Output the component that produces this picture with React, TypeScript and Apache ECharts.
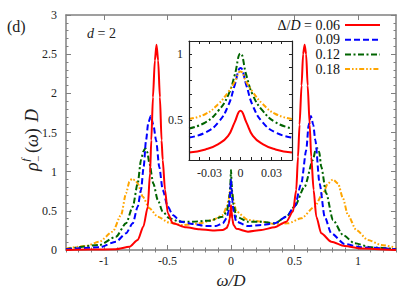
import React, { useEffect, useRef } from "react";
import * as echarts from "echarts";

// ---- data ----
const seriesNames = ["0.06", "0.09", "0.12", "0.18"];

const red006: number[][] = [
  [-1.3, 0.0], [-1.1, 0.005], [-0.906, 0.01], [-0.8, 0.04], [-0.735, 0.128], [-0.69, 0.3],
  [-0.656, 0.55], [-0.638, 0.98], [-0.628, 1.4], [-0.615, 1.95], [-0.6, 2.42], [-0.587, 2.62],
  [-0.574, 2.42], [-0.56, 1.95], [-0.547, 1.4], [-0.538, 1.15], [-0.52, 0.77], [-0.498, 0.47],
  [-0.459, 0.34], [-0.354, 0.29], [-0.25, 0.264], [-0.144, 0.25], [-0.065, 0.255], [-0.034, 0.28],
  [-0.02, 0.33], [-0.01, 0.4], [-0.005, 0.49], [0, 0.57], [0.005, 0.49], [0.01, 0.4], [0.02, 0.32],
  [0.042, 0.27], [0.134, 0.234], [0.239, 0.255], [0.344, 0.29], [0.436, 0.362], [0.488, 0.49],
  [0.514, 0.766], [0.528, 1.19], [0.54, 1.6], [0.556, 2.1], [0.568, 2.5], [0.58, 2.62], [0.592, 2.5],
  [0.604, 2.1], [0.62, 1.6], [0.632, 1.19], [0.651, 0.766], [0.672, 0.425], [0.711, 0.213],
  [0.79, 0.106], [0.895, 0.051], [1.026, 0.02], [1.3, 0.0],
];
const blue009: number[][] = [
  [-1.3, 0.01], [-1.037, 0.034], [-0.906, 0.106], [-0.827, 0.213], [-0.774, 0.34], [-0.735, 0.553],
  [-0.709, 0.766], [-0.688, 1.064], [-0.669, 1.405], [-0.652, 1.62], [-0.632, 1.71], [-0.612, 1.6],
  [-0.59, 1.4], [-0.565, 1.06], [-0.538, 0.766], [-0.498, 0.553], [-0.459, 0.447], [-0.394, 0.362],
  [-0.302, 0.332], [-0.197, 0.306], [-0.118, 0.306], [-0.065, 0.34], [-0.034, 0.408], [-0.02, 0.49],
  [-0.01, 0.63], [-0.005, 0.77], [0, 0.9], [0.005, 0.77], [0.01, 0.63], [0.02, 0.49], [0.042, 0.36],
  [0.134, 0.306], [0.239, 0.32], [0.344, 0.34], [0.436, 0.425], [0.501, 0.553], [0.554, 0.85],
  [0.593, 1.277], [0.612, 1.6], [0.63, 1.71], [0.648, 1.6], [0.664, 1.405], [0.698, 0.85],
  [0.738, 0.425], [0.79, 0.213], [0.895, 0.077], [1.026, 0.034], [1.3, 0.01],
];
const green012: number[][] = [
  [-1.3, 0.01], [-1.037, 0.064], [-0.906, 0.17], [-0.827, 0.34], [-0.774, 0.553], [-0.735, 0.85],
  [-0.709, 1.15], [-0.69, 1.26], [-0.675, 1.3], [-0.66, 1.25], [-0.643, 1.107], [-0.612, 0.85],
  [-0.577, 0.64], [-0.538, 0.49], [-0.486, 0.405], [-0.407, 0.362], [-0.302, 0.362], [-0.171, 0.375],
  [-0.065, 0.425], [-0.034, 0.485], [-0.02, 0.58], [-0.01, 0.72], [-0.005, 0.85], [0, 1.02],
  [0.005, 0.85], [0.01, 0.72], [0.02, 0.58], [0.042, 0.425], [0.134, 0.362], [0.239, 0.362],
  [0.344, 0.34], [0.436, 0.425], [0.501, 0.553], [0.58, 0.81], [0.646, 1.15], [0.665, 1.27],
  [0.68, 1.3], [0.695, 1.25], [0.711, 1.064], [0.75, 0.724], [0.803, 0.383], [0.882, 0.192],
  [0.974, 0.085], [1.105, 0.034], [1.3, 0.01],
];
const orange018: number[][] = [
  [-1.3, 0.02], [-1.142, 0.051], [-1.037, 0.106], [-0.932, 0.234], [-0.866, 0.447], [-0.827, 0.724],
  [-0.8, 0.872], [-0.78, 0.91], [-0.755, 0.89], [-0.735, 0.85], [-0.695, 0.68], [-0.643, 0.532],
  [-0.577, 0.425], [-0.486, 0.349], [-0.38, 0.319], [-0.25, 0.34], [-0.144, 0.383], [-0.065, 0.447],
  [-0.034, 0.548], [-0.02, 0.63], [-0.01, 0.72], [-0.005, 0.79], [0, 0.87], [0.005, 0.79],
  [0.01, 0.72], [0.02, 0.63], [0.042, 0.49], [0.134, 0.383], [0.239, 0.362], [0.344, 0.332],
  [0.449, 0.34], [0.554, 0.405], [0.659, 0.553], [0.724, 0.724], [0.764, 0.85], [0.803, 0.9],
  [0.843, 0.85], [0.882, 0.66], [0.921, 0.447], [0.987, 0.255], [1.079, 0.128], [1.183, 0.064],
  [1.3, 0.03],
];

// inset (zoom around omega = 0)
const insetRed: number[][] = [
  [-0.05, 0.256], [-0.034, 0.28], [-0.0215, 0.32], [-0.012, 0.383], [-0.0057, 0.485], [0, 0.573],
  [0.0057, 0.485], [0.012, 0.383], [0.0215, 0.32], [0.034, 0.28], [0.05, 0.256],
];
const insetBlue: number[][] = [
  [-0.05, 0.37], [-0.034, 0.408], [-0.0215, 0.485], [-0.012, 0.61], [-0.0057, 0.764], [0, 0.896],
  [0.0057, 0.764], [0.012, 0.61], [0.0215, 0.485], [0.034, 0.408], [0.05, 0.37],
];
const insetGreen: number[][] = [
  [-0.05, 0.439], [-0.034, 0.485], [-0.0215, 0.573], [-0.012, 0.69], [-0.0057, 0.84], [0, 1.005],
  [0.0057, 0.84], [0.012, 0.69], [0.0215, 0.573], [0.034, 0.485], [0.05, 0.439],
];
const insetOrange: number[][] = [
  [-0.05, 0.51], [-0.034, 0.548], [-0.0215, 0.624], [-0.012, 0.713], [-0.0057, 0.79], [0, 0.87],
  [0.0057, 0.79], [0.012, 0.713], [0.0215, 0.624], [0.034, 0.548], [0.05, 0.51],
];

const xMajorTicks = [-1, -0.5, 0, 0.5, 1];
const insetXLabels = [-0.03, 0, 0.03];
const insetYLabels = [0.5, 1];

// ---- styles ----
const FONT = "'Liberation Serif', 'DejaVu Serif', serif";
const FRAME = "#808080";
const colors = ["#ff0000", "#0000ff", "#006400", "#ffa500"];
const dashes: any[] = ["solid", [6, 3], [6, 2.5, 2, 2.5], [5, 2, 1.6, 2, 1.6, 2]];

const xMinorTicks: number[] = [];
for (let i = -13; i <= 13; i++) if (i % 5 !== 0) xMinorTicks.push(i / 10);

export default function App() {
  const ref = useRef<HTMLDivElement>(null);
  useEffect(() => {
    if (!ref.current) return;
    const chart = echarts.init(ref.current, undefined, { renderer: "svg" });

    const mainGrid = { left: 66, top: 15, width: 330, height: 235 };
    const insetGrid = { left: 189, top: 41, width: 103, height: 119 };

    const mainX = (extra: any) => ({
      type: "value",
      gridIndex: 0,
      min: -1.3,
      max: 1.3,
      splitLine: { show: false },
      axisLabel: { show: false },
      ...extra,
    });

    const mainSeries = [red006, blue009, green012, orange018].map((d, i) => ({
      name: seriesNames[i],
      type: "line",
      xAxisIndex: 0,
      yAxisIndex: 0,
      data: d,
      showSymbol: false,
      symbol: "none",
      smooth: 0.25,
      smoothMonotone: "x",
      z: 2 + (3 - i) * 0.01,
      lineStyle: { color: colors[i], width: 2, type: dashes[i] },
      itemStyle: { color: colors[i] },
    }));
    const insetSeries = [insetRed, insetBlue, insetGreen, insetOrange].map((d, i) => ({
      name: seriesNames[i],
      type: "line",
      xAxisIndex: 4,
      yAxisIndex: 2,
      data: d,
      showSymbol: false,
      symbol: "none",
      smooth: 0.5,
      z: 6,
      lineStyle: { color: colors[i], width: 2, type: dashes[i] },
      itemStyle: { color: colors[i] },
    }));

    chart.setOption({
      animation: false,
      backgroundColor: "#ffffff",
      textStyle: { fontFamily: FONT },
      grid: [
        { ...mainGrid, containLabel: false, outerBoundsMode: "none" },
        { ...insetGrid, containLabel: false, outerBoundsMode: "none" },
      ],
      legend: {
        data: seriesNames,
        orient: "vertical",
        align: "right",
        right: 34,
        top: 18,
        padding: 0,
        itemWidth: 35,
        itemHeight: 10,
        itemGap: 0.7,
        selectedMode: false,
        itemStyle: { opacity: 0 },
        formatter: (n: string) => (n === "0.06" ? "Δ/{i|D} = 0.06" : n),
        textStyle: {
          fontFamily: FONT,
          fontSize: 14,
          color: "#111",
          lineHeight: 12,
          rich: { i: { fontStyle: "italic", fontFamily: FONT, fontSize: 14, lineHeight: 12 } },
        },
      },
      xAxis: [
        mainX({
          position: "bottom",
          axisLine: { show: true, onZero: false, lineStyle: { color: FRAME, width: 1.5 } },
          axisTick: { show: true, inside: true, length: 5, customValues: xMajorTicks, lineStyle: { color: FRAME, width: 1 } },
          axisLabel: { show: true, customValues: xMajorTicks, margin: 5, fontFamily: FONT, fontSize: 12, color: "#222" },
          name: "ω/D",
          nameLocation: "middle",
          nameGap: 21,
          nameTextStyle: { fontFamily: FONT, fontSize: 17, fontStyle: "italic", color: "#222" },
        }),
        mainX({
          position: "bottom",
          axisLine: { show: false },
          axisTick: { show: true, inside: true, length: 2.5, customValues: xMinorTicks, lineStyle: { color: FRAME, width: 1 } },
        }),
        mainX({
          position: "top",
          axisLine: { show: true, onZero: false, lineStyle: { color: FRAME, width: 1.5 } },
          axisTick: { show: true, inside: true, length: 5, customValues: xMajorTicks, lineStyle: { color: FRAME, width: 1 } },
        }),
        mainX({
          position: "top",
          axisLine: { show: false },
          axisTick: { show: true, inside: true, length: 2.5, customValues: xMinorTicks, lineStyle: { color: FRAME, width: 1 } },
        }),
        {
          type: "value",
          gridIndex: 1,
          position: "bottom",
          min: -0.05,
          max: 0.05,
          interval: 0.01,
          z: 7,
          splitLine: { show: false },
          axisLine: { show: true, onZero: false, lineStyle: { color: "#222", width: 1.2 } },
          axisTick: { show: true, inside: true, length: 3, lineStyle: { color: "#222", width: 1 } },
          axisLabel: { show: true, customValues: insetXLabels, margin: 7, fontFamily: FONT, fontSize: 12, color: "#222" },
        },
        {
          type: "value",
          gridIndex: 1,
          position: "top",
          min: -0.05,
          max: 0.05,
          interval: 0.01,
          z: 7,
          splitLine: { show: false },
          axisLine: { show: true, onZero: false, lineStyle: { color: "#222", width: 1.2 } },
          axisTick: { show: true, inside: true, length: 3, lineStyle: { color: "#222", width: 1 } },
          axisLabel: { show: false },
        },
      ],
      yAxis: [
        {
          type: "value",
          gridIndex: 0,
          position: "left",
          min: 0,
          max: 3,
          interval: 0.5,
          splitLine: { show: false },
          axisLine: { show: true, onZero: false, lineStyle: { color: FRAME, width: 1.5 } },
          axisTick: { show: true, inside: true, length: 5, lineStyle: { color: FRAME, width: 1 } },
          minorTick: { show: true, splitNumber: 5, length: 2.5, lineStyle: { color: FRAME, width: 1 } },
          minorSplitLine: { show: false },
          axisLabel: { show: true, margin: 9, fontFamily: FONT, fontSize: 12, color: "#222" },
        },
        {
          type: "value",
          gridIndex: 0,
          position: "right",
          min: 0,
          max: 3,
          interval: 0.5,
          splitLine: { show: false },
          axisLine: { show: true, onZero: false, lineStyle: { color: FRAME, width: 1.5 } },
          axisTick: { show: true, inside: true, length: 5, lineStyle: { color: FRAME, width: 1 } },
          minorTick: { show: true, splitNumber: 5, length: 2.5, lineStyle: { color: FRAME, width: 1 } },
          minorSplitLine: { show: false },
          axisLabel: { show: false },
        },
        {
          type: "value",
          gridIndex: 1,
          position: "left",
          min: 0.2,
          max: 1.1,
          interval: 0.1,
          z: 7,
          splitLine: { show: false },
          axisLine: { show: true, onZero: false, lineStyle: { color: "#222", width: 1.2 } },
          axisTick: { show: true, inside: true, length: 3, lineStyle: { color: "#222", width: 1 } },
          axisLabel: { show: true, customValues: insetYLabels, margin: 6, fontFamily: FONT, fontSize: 12, color: "#222" },
        },
        {
          type: "value",
          gridIndex: 1,
          position: "right",
          min: 0.2,
          max: 1.1,
          interval: 0.1,
          z: 7,
          splitLine: { show: false },
          axisLine: { show: true, onZero: false, lineStyle: { color: "#222", width: 1.2 } },
          axisTick: { show: true, inside: true, length: 3, lineStyle: { color: "#222", width: 1 } },
          axisLabel: { show: false },
        },
      ],
      graphic: [
        {
          type: "rect",
          z: 4,
          shape: { x: insetGrid.left, y: insetGrid.top, width: insetGrid.width, height: insetGrid.height },
          style: { fill: "#ffffff" },
        },
        {
          type: "text",
          x: 7,
          y: 26,
          z: 10,
          style: { text: "(d)", font: `16px ${FONT}`, fill: "#222", verticalAlign: "middle" },
        },
        {
          type: "text",
          x: 87,
          y: 33,
          z: 10,
          style: {
            text: "{i|d} = 2",
            font: `14px ${FONT}`,
            fill: "#222",
            verticalAlign: "middle",
            rich: { i: { fontStyle: "italic", fontFamily: FONT, fontSize: 14 } },
          },
        },
        {
          type: "group",
          x: 32,
          y: 137,
          rotation: Math.PI / 2,
          z: 10,
          children: [
            { type: "text", x: -34, y: 0, style: { text: "ρ", font: `italic 18px ${FONT}`, fill: "#222", verticalAlign: "middle" } },
            { type: "text", x: -24.5, y: -7, style: { text: "f", font: `italic 11px ${FONT}`, fill: "#222", verticalAlign: "middle" } },
            { type: "text", x: -25, y: 6, style: { text: "−", font: `11px ${FONT}`, fill: "#222", verticalAlign: "middle" } },
            {
              type: "text",
              x: -16,
              y: 0,
              style: {
                text: "({i|ω})",
                font: `18px ${FONT}`,
                fill: "#222",
                verticalAlign: "middle",
                rich: { i: { fontStyle: "italic", fontFamily: FONT, fontSize: 18 } },
              },
            },
            { type: "text", x: 15, y: 0, style: { text: "D", font: `italic 18px ${FONT}`, fill: "#222", verticalAlign: "middle" } },
          ],
        },
      ],
      series: [...mainSeries, ...insetSeries],
    });

    return () => chart.dispose();
  }, []);

  return (
    <div
      ref={ref}
      style={{ position: "fixed", left: 0, top: 0, width: 415, height: 291, background: "#fff" }}
    />
  );
}
